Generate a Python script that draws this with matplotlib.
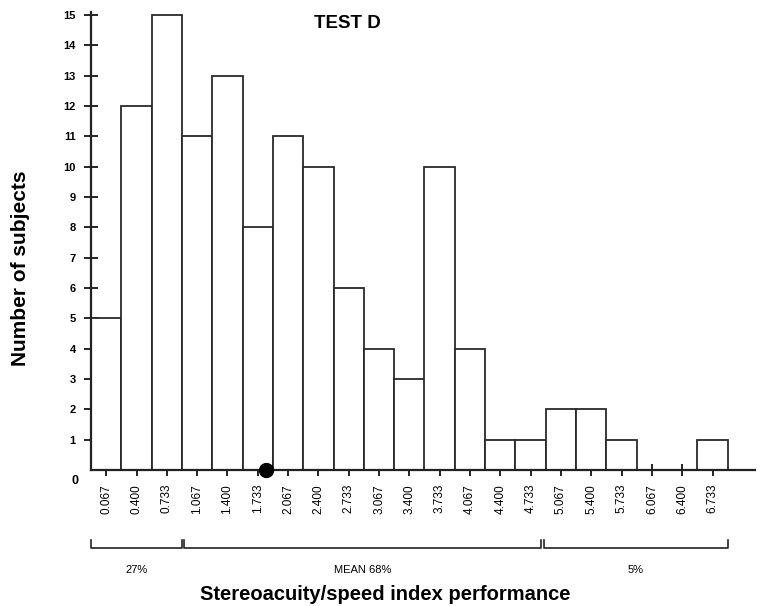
import numpy as np
import matplotlib.pyplot as plt
import matplotlib.transforms as mtransforms

plt.rcParams['font.family'] = ['Liberation Sans', 'DejaVu Sans']

# Histogram data
bin_labels = ['0.067', '0.400', '0.733', '1.067', '1.400', '1.733', '2.067',
              '2.400', '2.733', '3.067', '3.400', '3.733', '4.067', '4.400',
              '4.733', '5.067', '5.400', '5.733', '6.067', '6.400', '6.733']
counts = [5, 12, 15, 11, 13, 8, 11, 10, 6, 4, 3, 10, 4, 1, 1, 2, 2, 1, 0, 0, 1]
mean_value = 1.82
group_labels = ['27%', 'MEAN 68%', '5%']
group_ranges = [(-0.1, 0.9), (0.92, 4.85), (4.88, 6.9)]

centers = np.array([float(s) for s in bin_labels])
width = 1 / 3

fig = plt.figure(figsize=(7.63, 6.06), dpi=100)
ax = fig.add_axes([0.1193, 0.2244, 0.8702, 0.7558])

ax.bar(centers, counts, width=width, facecolor='white', edgecolor='#2a2a2a',
       linewidth=1.3, zorder=2)
ax.plot([mean_value], [0], 'o', color='black', markersize=10, clip_on=False, zorder=5)

ax.set_xlim(-0.1, 7.2)
ax.set_ylim(0, 15.1)

for s in ['top', 'right']:
    ax.spines[s].set_visible(False)
for s in ['left', 'bottom']:
    ax.spines[s].set_linewidth(1.6)
    ax.spines[s].set_color('#222222')

ax.set_yticks(range(1, 16))
ax.set_yticklabels([str(i) for i in range(1, 16)], fontsize=8, fontweight='bold')
ax.tick_params(axis='y', direction='inout', length=10, width=1.2, pad=6)
ax.text(-0.28, -0.35, '0', fontsize=9, fontweight='bold', ha='center', va='center')

ax.set_xticks(centers)
ax.set_xticklabels(bin_labels, rotation=90, fontsize=8.5)
ax.tick_params(axis='x', direction='inout', length=8, width=1.2, pad=6)

ax.text(2.72, 14.72, 'TEST D', fontsize=13.5, fontweight='bold', ha='center', va='center')
ax.set_ylabel('Number of subjects', fontsize=15, fontweight='bold')
ax.yaxis.set_label_coords(-0.092, 0.44)

# brackets below the axis
trans = mtransforms.blended_transform_factory(ax.transData, ax.transAxes)
for lab, (x0, x1) in zip(group_labels, group_ranges):
    ax.plot([x0, x0, x1, x1], [-0.153, -0.170, -0.170, -0.153], color='#222222',
            linewidth=1.2, transform=trans, clip_on=False)
    ax.text((x0 + x1) / 2, -0.218, lab, fontsize=8, ha='center', va='center',
            transform=trans)

ax.text(0.443, -0.272, 'Stereoacuity/speed index performance', fontsize=14.5,
        fontweight='bold', ha='center', va='center', transform=ax.transAxes)

fig.savefig('out.png', dpi=100)
